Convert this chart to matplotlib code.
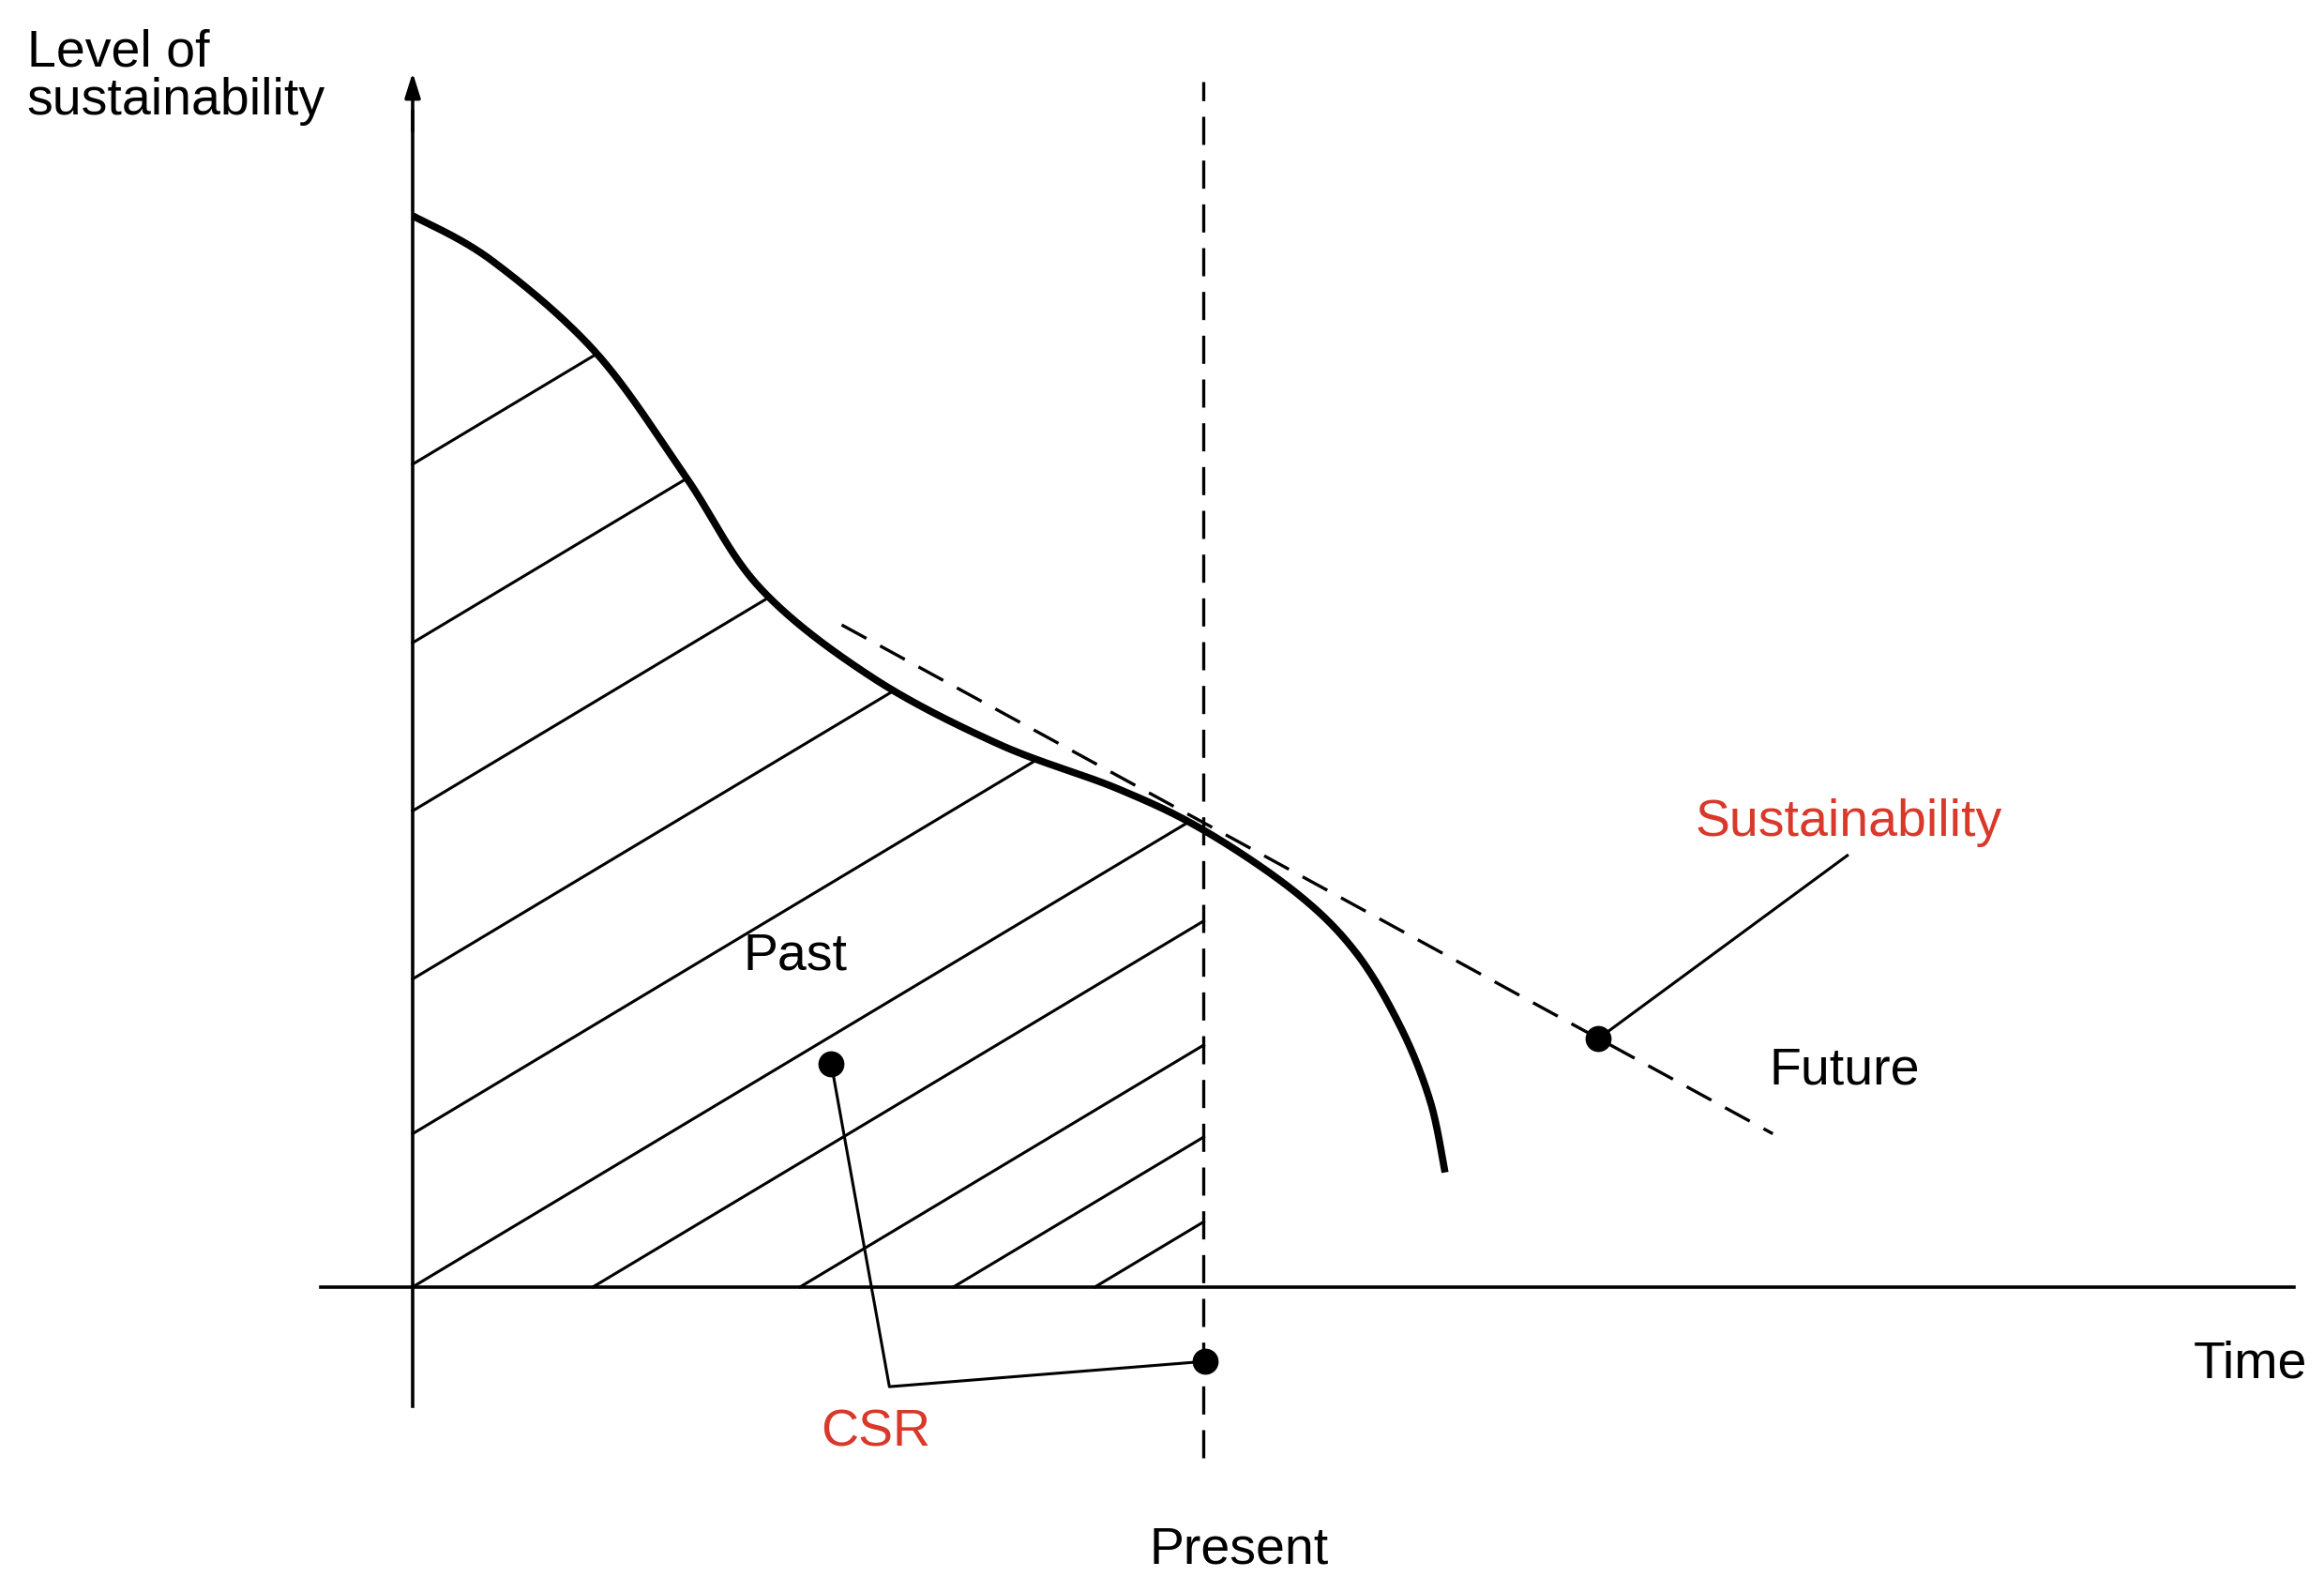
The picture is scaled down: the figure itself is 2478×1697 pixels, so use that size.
import numpy as np
import matplotlib
matplotlib.use("Agg")
import matplotlib.pyplot as plt

plt.rcParams['font.family'] = ['Liberation Sans', 'DejaVu Sans']

# Data (time, level) in chart units, origin at axes crossing
curve_t = [0, 53, 123, 183, 233, 308, 393, 473, 531, 593, 633, 663, 683, 693]
curve_y = [720, 690, 628, 545, 470, 410, 365, 335, 307, 265, 225, 175, 125, 77]
tangent_t = [288, 913]
tangent_y = [445, 103]
present_t = 531
hatch_left_y = [553, 433, 320, 207, 103, 0]
hatch_base_t = [121, 260, 363, 458]
hatch_slope = 0.6
csr_dot1 = (281, 150)
csr_dot2 = (532, -50)
csr_knee = (320, -67)
sus_dot = (796, 167)
sus_label_pt = (963, 290)

def catmull(xs, ys, n=60):
    P = np.column_stack([xs, ys]).astype(float)
    P = np.vstack([P[0], P, P[-1]])
    out = []
    for i in range(1, len(P) - 2):
        p0, p1, p2, p3 = P[i-1], P[i], P[i+1], P[i+2]
        for t in np.linspace(0, 1, n, endpoint=False):
            out.append(0.5 * ((2*p1) + (-p0+p2)*t + (2*p0-5*p1+4*p2-p3)*t*t + (-p0+3*p1-3*p2+p3)*t**3))
    out.append(P[-2])
    out = np.array(out)
    return out[:, 0], out[:, 1]

RED = "#d8392b"
fig = plt.figure(figsize=(24.78, 16.97), dpi=100)
ax = fig.add_axes([0, 0, 1, 1])
ax.set_xlim(-277, 1283)
ax.set_ylim(-205, 865)
ax.axis("off")

# axes
ax.plot([-62, 1263], [0, 0], color="black", lw=2.6)
ax.plot([0, 0], [-80, 790], color="black", lw=2.6)
ax.annotate("", xy=(0, 818), xytext=(0, 775),
            arrowprops=dict(arrowstyle="-|>,head_length=1.6,head_width=0.5", color="black", lw=2.6))

ct, cy = catmull(curve_t, curve_y)

def hatch(t0, c):
    tt = np.linspace(t0, present_t, 3000)
    yy = c + hatch_slope * (tt - t0)
    below = yy <= np.interp(tt, ct, cy)
    idx = np.argmin(below) if not below.all() else len(tt) - 1
    ax.plot([t0, tt[idx]], [c, yy[idx]], color="black", lw=2.2)
for c in hatch_left_y:
    hatch(0, c)
for t0 in hatch_base_t:
    hatch(t0, 0)

ax.plot(ct, cy, color="black", lw=5.5, solid_capstyle="butt")
ax.plot(tangent_t, tangent_y, color="black", lw=2.4, dashes=(9, 5))
ax.plot([present_t, present_t], [-115, 810], color="black", lw=2.4, dashes=(9, 5))

ax.plot([csr_dot1[0], csr_knee[0], csr_dot2[0]], [csr_dot1[1], csr_knee[1], csr_dot2[1]], color="black", lw=2.2)
ax.plot([sus_dot[0], sus_label_pt[0]], [sus_dot[1], sus_label_pt[1]], color="black", lw=2.2)
for p in (csr_dot1, csr_dot2, sus_dot):
    ax.plot(*p, "o", color="black", ms=19)

fs = 40
ax.text(-259, 846, "Level of\nsustainability", fontsize=fs, va="top", ha="left", linespacing=1.0)
ax.text(1272, -52, "Time", fontsize=fs, ha="right", va="center")
ax.text(555, -177, "Present", fontsize=fs, ha="center", va="center")
ax.text(257, 222, "Past", fontsize=fs, ha="center", va="center")
ax.text(961, 145, "Future", fontsize=fs, ha="center", va="center")
ax.text(311, -98, "CSR", fontsize=fs, ha="center", va="center", color=RED)
ax.text(964, 312, "Sustainability", fontsize=fs, ha="center", va="center", color=RED)

fig.savefig("out.png", dpi=100)
